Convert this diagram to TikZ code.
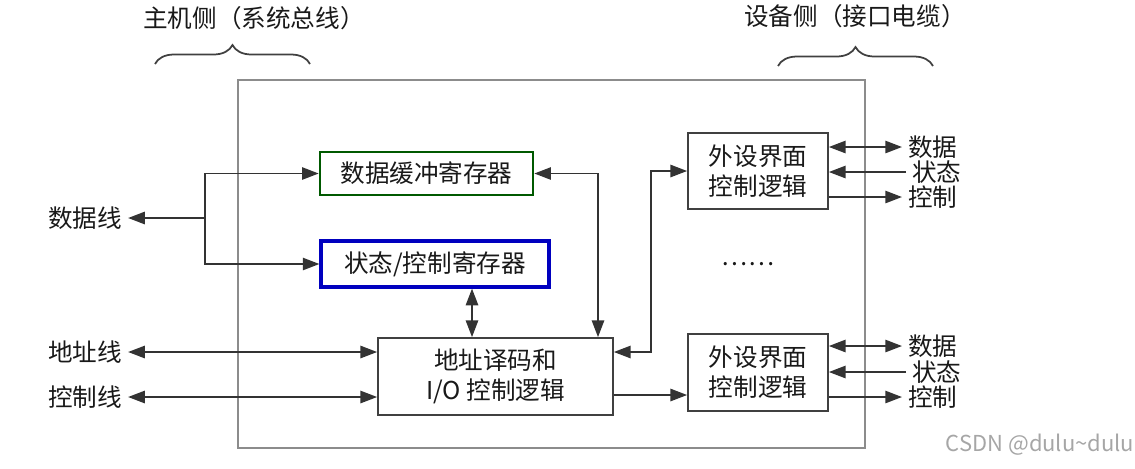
\documentclass[tikz,border=0pt]{standalone}
\usepackage{fontspec}
\setmainfont{Noto Sans CJK SC}
\usetikzlibrary{arrows.meta, decorations.pathreplacing}

\begin{document}
\begin{tikzpicture}[x=0.02cm, y=-0.02cm,
    every node/.style={font=\fontsize{14}{17}\selectfont, text=black!90},
    blk/.style={draw=black!75, line width=1pt, fill=white, align=center, inner sep=0pt},
    ln/.style={line width=1pt, draw=black!80},
    brc/.style={decorate, decoration={brace, amplitude=0.38cm}, line width=1pt, draw=black!75},
    >={Triangle[length=9.5pt,width=7pt]}]
        \useasboundingbox (0,0) rectangle (1135,468);

        % Outer interface frame
        \draw[black!45, line width=0.8pt] (238,80) rectangle (865,448);

        % Braces with side labels
        \draw[brc] (155,64) -- (310,64);
        \draw[brc] (778,66) -- (933,66);
        \node (hostlbl) at (254,18) {主机侧（系统总线）};
        \node (devlbl) at (855,16) {设备侧（接口电缆）};

        % Register and logic blocks
        \node[blk, draw=green!35!black, line width=1.5pt, minimum width=4.26cm, minimum height=0.86cm] (data) at (426.5,173.5) {数据缓冲寄存器};
        \node[blk, draw=blue!75!black, line width=1.8pt, minimum width=4.56cm, minimum height=0.92cm] (stat) at (435,264) {状态/控制寄存器};
        \node[blk, minimum width=4.7cm, minimum height=1.54cm] (dec) at (495.5,376.5) {地址译码和\\I/O 控制逻辑};
        \node[blk, minimum width=2.8cm, minimum height=1.52cm] (pt) at (758,171) {外设界面\\控制逻辑};
        \node[blk, minimum width=2.8cm, minimum height=1.54cm] (pb) at (758,372.5) {外设界面\\控制逻辑};
        \node (dots) at (748,264) {……};

        % Host side lines
        \node (dline) at (85,218) {数据线};
        \node (aline) at (85,352) {地址线};
        \node (cline) at (85,397) {控制线};

        % Turning points of the connectors
        \coordinate (br) at (205,218);   % data line branch
        \coordinate (sd) at (472,0);     % status <-> decode
        \coordinate (dx) at (598,0);     % buffer <-> decode
        \coordinate (px) at (651,352);   % decode <-> upper peripheral

        % Host side connectors
        \draw[ln,<-] (dline.east) -- (br);
        \draw[ln,->] (br) |- (data.west);
        \draw[ln,->] (br) |- (stat.west);
        \draw[ln,<->] (aline.east) -- (aline.east -| dec.west);
        \draw[ln,<->] (cline.east) -- (cline.east -| dec.west);

        % Internal connectors
        \draw[ln,<->] (sd |- stat.south) -- (sd |- dec.north);
        \draw[ln,<->] (data.east) -| (dx |- dec.north);
        \draw[ln,<->] (px -| dec.east) -- (px) |- (pt.west);
        \draw[ln,->] ([yshift=-0.37cm]dec.east) -- ([yshift=-0.37cm]dec.east -| pb.west);

        % Device side signals, upper
        \node[anchor=west] (d1) at (902,147) {数据};
        \node[anchor=west] (s1) at (906,172) {状态};
        \node[anchor=west] (c1) at (902,197) {控制};
        \draw[ln,<->] (pt.east |- d1.west) -- (d1.west);
        \draw[ln,->] (s1.west) -- (s1.west -| pt.east);
        \draw[ln,->] (pt.east |- c1.west) -- (c1.west);

        % Device side signals, lower
        \node[anchor=west] (d2) at (902,346) {数据};
        \node[anchor=west] (s2) at (906,372) {状态};
        \node[anchor=west] (c2) at (902,397) {控制};
        \draw[ln,<->] (pb.east |- d2.west) -- (d2.west);
        \draw[ln,->] (s2.west) -- (s2.west -| pb.east);
        \draw[ln,->] (pb.east |- c2.west) -- (c2.west);

        % Watermark
        \node[text=black!35, font=\fontsize{12.5}{15}\selectfont] (wm) at (1040,445) {CSDN @dulu\textasciitilde dulu};
\end{tikzpicture}
\end{document}
